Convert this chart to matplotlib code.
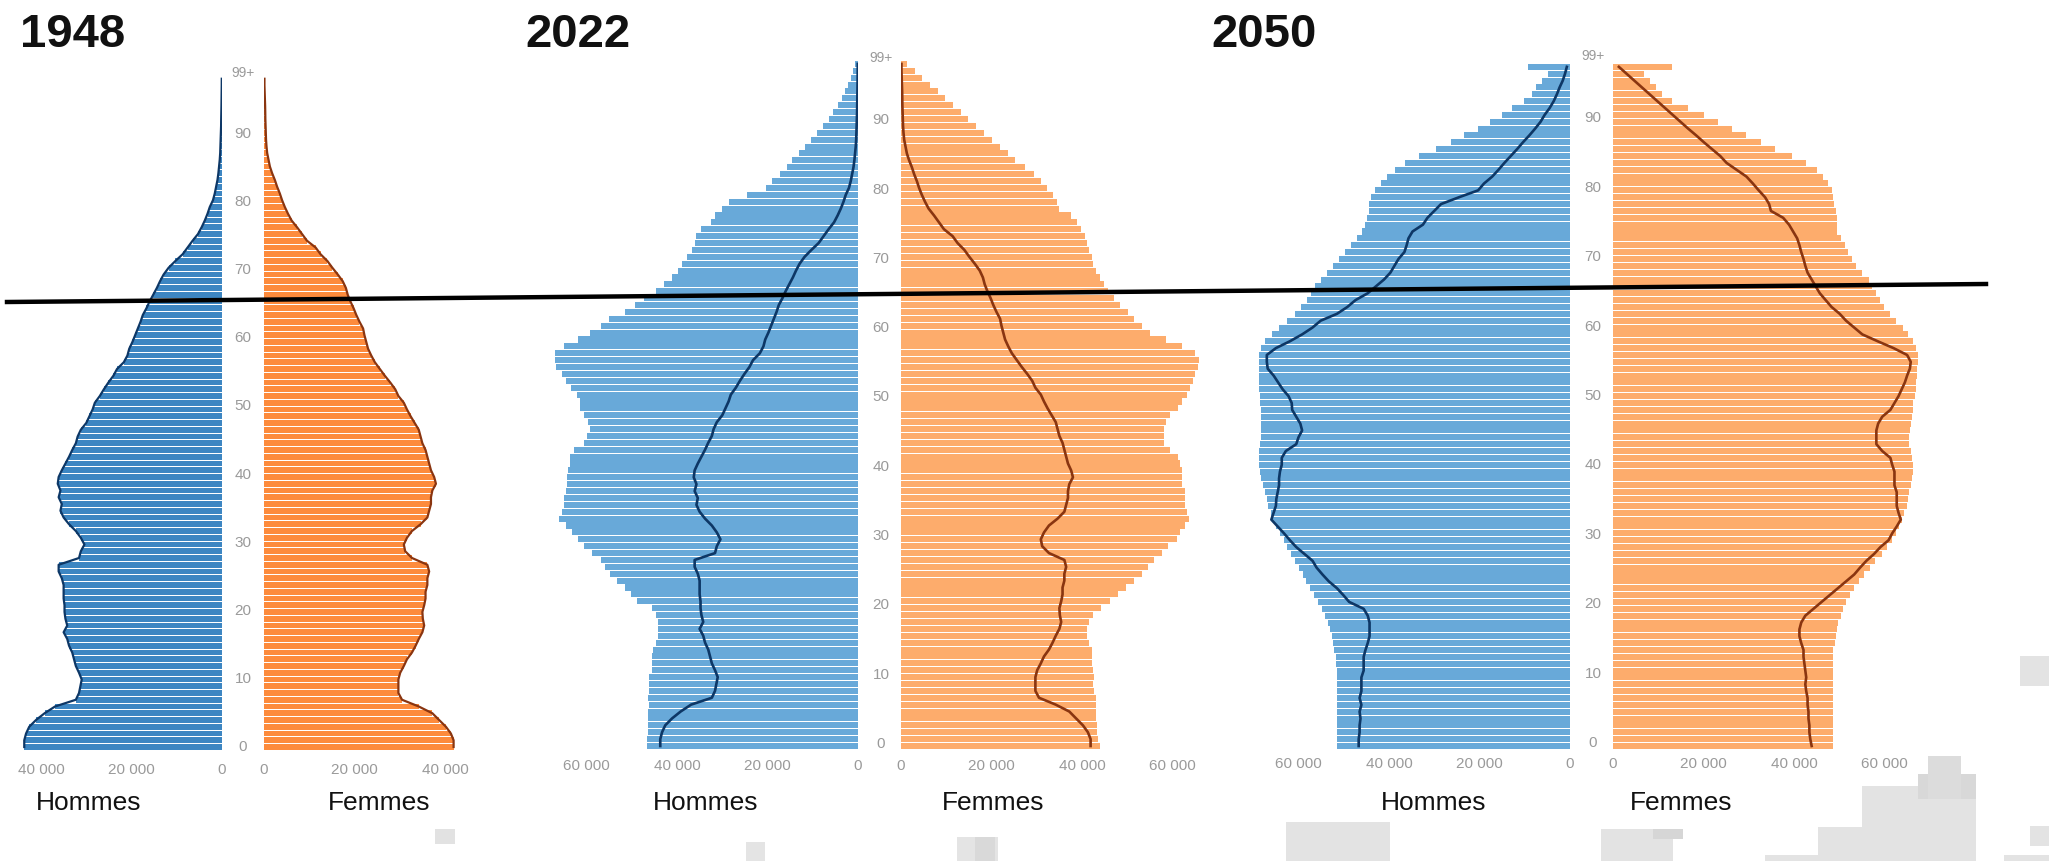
import matplotlib
matplotlib.use("Agg")
import matplotlib.pyplot as plt
from matplotlib.patches import Rectangle
from matplotlib.lines import Line2D

# ---------------- DATA (thousands of people, ages 0 .. 99+) ----------------
ages = list(range(100))
age_tick_values = [0, 10, 20, 30, 40, 50, 60, 70, 80, 90, 99]
age_tick_labels = ["0", "10", "20", "30", "40", "50", "60", "70", "80", "90", "99+"]

men_1948 = [43.7, 43.7, 43.3, 42.6, 41.1, 39.2, 36.9, 32.3, 31.6, 31.3,
            31.0, 31.6, 32.3, 32.7, 33.1, 33.8, 34.2, 35.0, 34.2, 34.6,
            34.8, 34.8, 35.0, 35.0, 35.0, 35.4, 36.1, 36.1, 31.6, 31.2,
            30.4, 31.2, 32.3, 33.8, 35.0, 35.7, 35.4, 36.1, 35.7, 36.3,
            36.1, 35.4, 34.6, 33.8, 33.1, 32.3, 31.9, 31.2, 30.0, 29.3,
            28.6, 28.1, 27.0, 26.1, 25.1, 24.0, 23.2, 21.7, 20.9, 20.5,
            19.8, 19.2, 18.6, 18.0, 17.5, 16.7, 16.0, 15.2, 14.4, 13.7,
            12.9, 11.8, 10.3, 8.7, 7.6, 6.5, 5.3, 4.5, 3.8, 3.2,
            2.7, 2.0, 1.6, 1.3, 1.0, 0.8, 0.65, 0.5, 0.4, 0.35,
            0.3, 0.25, 0.2, 0.18, 0.15, 0.12, 0.1, 0.08, 0.06, 0.05]

women_1948 = [41.9, 41.9, 41.3, 40.2, 38.7, 37.2, 34.2, 30.5, 29.7, 29.7,
              29.7, 30.1, 30.9, 31.6, 32.7, 33.5, 34.2, 35.0, 35.4, 35.1,
              35.0, 35.4, 35.7, 35.7, 36.1, 36.1, 36.5, 36.1, 32.7, 31.2,
              30.9, 31.6, 32.7, 34.6, 36.1, 36.5, 36.9, 36.9, 37.2, 38.0,
              37.6, 36.9, 36.5, 36.1, 35.7, 35.0, 34.6, 34.2, 33.3, 32.4,
              31.6, 30.9, 29.7, 29.0, 27.9, 26.7, 25.6, 24.5, 23.7, 23.0,
              22.6, 22.2, 21.9, 21.1, 20.4, 19.8, 19.1, 18.5, 18.1, 17.4,
              16.3, 15.1, 14.0, 12.5, 11.4, 9.5, 8.4, 7.3, 6.1, 5.3,
              4.6, 4.0, 3.5, 2.9, 2.4, 1.8, 1.3, 1.0, 0.7, 0.55,
              0.45, 0.4, 0.35, 0.3, 0.28, 0.25, 0.2, 0.15, 0.1, 0.1]

men_2022 = [46.7, 46.7, 46.5, 46.5, 46.3, 46.5, 46.1, 46.5, 46.1, 46.1,
            46.1, 45.6, 45.6, 45.6, 45.2, 44.7, 44.3, 44.3, 44.3, 44.7,
            45.6, 48.8, 50.1, 51.5, 53.3, 54.7, 56.0, 56.9, 58.7, 60.5,
            61.9, 63.2, 64.6, 66.0, 65.5, 65.0, 64.9, 64.6, 64.3, 64.3,
            64.1, 63.7, 63.7, 62.8, 60.5, 60.0, 59.2, 59.6, 60.5, 61.4,
            61.5, 62.2, 63.5, 64.5, 65.5, 66.8, 67.0, 67.0, 65.0, 61.9,
            59.2, 56.9, 55.1, 51.5, 49.2, 47.4, 44.7, 42.9, 41.1, 39.7,
            38.8, 37.9, 36.6, 36.1, 35.7, 34.8, 32.5, 31.5, 30.0, 28.5,
            24.5, 20.3, 19.0, 17.2, 15.8, 14.5, 13.1, 11.7, 10.4, 9.0,
            7.7, 6.5, 5.6, 4.5, 3.6, 2.9, 2.3, 1.6, 1.1, 0.7]

women_2022 = [43.9, 43.6, 43.4, 43.4, 43.2, 43.2, 43.0, 43.0, 42.7, 42.5,
              42.7, 42.5, 42.3, 42.1, 42.1, 41.6, 41.2, 41.2, 41.6, 42.5,
              44.3, 46.1, 47.9, 49.7, 51.5, 53.3, 54.6, 56.0, 57.7, 59.1,
              60.9, 61.7, 62.7, 63.6, 63.1, 62.7, 62.7, 62.7, 62.2, 62.2,
              62.2, 61.7, 61.3, 59.5, 58.2, 58.2, 58.2, 58.6, 59.5, 61.3,
              62.2, 63.1, 63.8, 64.5, 65.0, 65.6, 65.8, 65.0, 62.0, 58.5,
              55.1, 53.3, 51.5, 50.1, 48.3, 47.0, 45.7, 44.8, 43.9, 43.0,
              42.5, 42.1, 41.6, 41.2, 40.7, 39.8, 38.9, 37.6, 34.9, 34.5,
              33.6, 32.2, 30.9, 29.5, 27.3, 25.1, 23.7, 21.9, 20.1, 18.4,
              16.6, 14.9, 13.2, 11.5, 9.8, 8.1, 6.4, 4.7, 3.0, 1.3]

men_2050 = [51.5, 51.5, 51.5, 51.5, 51.5, 51.5, 51.5, 51.5, 51.5, 51.5,
            51.5, 51.5, 51.7, 51.8, 52.1, 52.3, 52.6, 53.0, 53.5, 54.2,
            54.9, 55.7, 56.6, 57.4, 58.3, 59.0, 59.9, 60.7, 61.6, 62.5,
            63.3, 64.1, 65.0, 65.6, 66.1, 66.7, 67.0, 67.5, 67.9, 68.2,
            68.5, 68.7, 68.7, 68.7, 68.5, 68.2, 68.2, 68.2, 68.3, 68.3,
            68.4, 68.6, 68.8, 68.8, 68.8, 68.8, 68.8, 68.8, 68.2, 67.3,
            65.9, 64.3, 62.6, 60.8, 59.4, 58.1, 57.2, 56.3, 55.0, 53.7,
            52.4, 51.0, 49.7, 48.4, 47.0, 45.9, 45.3, 44.8, 44.4, 44.4,
            43.9, 43.0, 41.7, 40.4, 38.6, 36.4, 33.3, 29.7, 26.2, 23.5,
            20.4, 17.7, 15.1, 12.9, 10.2, 8.4, 7.5, 6.2, 4.9, 9.3]

women_2050 = [48.7, 48.7, 48.7, 48.7, 48.7, 48.7, 48.7, 48.7, 48.7, 48.7,
              48.7, 48.7, 48.7, 48.7, 48.7, 49.0, 49.3, 49.5, 49.8, 50.4,
              50.9, 51.5, 52.4, 53.2, 54.3, 55.4, 56.9, 58.0, 59.4, 60.5,
              61.6, 62.5, 63.3, 63.8, 64.3, 64.9, 65.1, 65.5, 65.8, 66.1,
              66.3, 66.3, 66.1, 65.8, 65.5, 65.5, 65.6, 65.8, 66.0, 66.2,
              66.3, 66.7, 66.9, 66.9, 67.1, 67.2, 67.4, 67.4, 66.9, 66.3,
              65.2, 64.1, 62.6, 61.3, 60.0, 59.1, 58.2, 57.3, 56.5, 55.1,
              53.8, 52.9, 52.0, 51.2, 50.3, 49.6, 49.4, 49.4, 49.2, 48.9,
              48.7, 48.3, 47.6, 46.3, 45.0, 42.7, 39.6, 35.7, 32.6, 29.5,
              26.4, 23.3, 20.2, 16.6, 13.1, 10.9, 9.6, 8.2, 6.9, 13.1]

titles = ["1948", "2022", "2050"]
men_label = "Hommes"
women_label = "Femmes"
ticks_1948 = [0, 20, 40]
ticks_later = [0, 20, 40, 60]

# ---------------- STYLE / LAYOUT ----------------
W, H = 2049, 862
PX = 4.525  # pixels per 1000 people
fig = plt.figure(figsize=(W / 100, H / 100), dpi=100)
fig.patch.set_facecolor("white")

NARROW = ["Liberation Sans Narrow", "Liberation Sans", "DejaVu Sans"]
ARIAL = ["Liberation Sans", "DejaVu Sans"]
TICK_GREY = "#9a9a9a"

# background compression blocks (decorative)
blocks = [(435, 830, 20, 15, "#e2e2e2"), (746, 843, 19, 19, "#e4e4e4"),
          (957, 838, 41, 24, "#e4e4e4"), (975, 838, 20, 24, "#d9d9d9"),
          (1286, 823, 104, 39, "#e3e3e3"), (1601, 830, 72, 32, "#e3e3e3"),
          (1653, 830, 30, 10, "#d6d6d6"), (1818, 828, 44, 34, "#e3e3e3"),
          (1765, 856, 97, 6, "#e3e3e3"), (1862, 787, 114, 75, "#e3e3e3"),
          (1918, 775, 58, 25, "#d8d8d8"), (1928, 757, 33, 43, "#dcdcdc"),
          (2020, 657, 29, 30, "#e3e3e3"), (2030, 827, 19, 20, "#e3e3e3"),
          (2004, 856, 45, 6, "#e3e3e3")]
for (bx, by, bw, bh, bc) in blocks:
    fig.add_artist(Rectangle((bx / W, 1 - (by + bh) / H), bw / W, bh / H,
                             transform=fig.transFigure, color=bc, lw=0, zorder=0))

panels = [
    dict(title=titles[0], men=men_1948, women=women_1948, men_line=men_1948, women_line=women_1948,
         men_right=222, women_left=264, xmax=45.7, y0=748, pitch=6.75, ticks=ticks_1948,
         lab0=747, lab_pitch=6.81,
         mc="#3d86c2", wc="#fd8b3c", lw=1.6, title_x=20, tick_y=770,
         hx=89, fx=379, age_x=243),
    dict(title=titles[1], men=men_2022, women=women_2022, men_line=men_1948, women_line=women_1948,
         men_right=858, women_left=901, xmax=68.5, y0=747, pitch=6.89, ticks=ticks_later,
         lab0=744, lab_pitch=6.93,
         mc="#68a9d9", wc="#fdac6c", lw=1.9, title_x=525, tick_y=767,
         hx=706, fx=993, age_x=881),
    dict(title=titles[2], men=men_2050, women=women_2050, men_line=men_2022, women_line=women_2022,
         men_right=1570, women_left=1613, xmax=70.7, y0=747, pitch=6.86, ticks=ticks_later,
         lab0=743, lab_pitch=6.94,
         mc="#68a9d9", wc="#fdac6c", lw=1.9, title_x=1211, tick_y=765,
         hx=1434, fx=1681, age_x=1593),
]

MEN_LINE = "#0d3766"
WOMEN_LINE = "#8a3510"


def fmt(v):
    n = int(v * 1000)
    return "0" if n == 0 else "{:,}".format(n).replace(",", " ")


for p in panels:
    y_top = p["y0"] - 99.5 * p["pitch"]
    y_bot = p["y0"] + 0.5 * p["pitch"]
    width_px = p["xmax"] * PX
    for side in ("m", "w"):
        if side == "m":
            x0 = p["men_right"] - width_px
            vals, line, col, lcol = p["men"], p["men_line"], p["mc"], MEN_LINE
        else:
            x0 = p["women_left"]
            vals, line, col, lcol = p["women"], p["women_line"], p["wc"], WOMEN_LINE
        ax = fig.add_axes([x0 / W, 1 - y_bot / H, width_px / W, (y_bot - y_top) / H])
        ax.patch.set_visible(False)
        ax.barh(ages, vals, height=0.88, color=col, lw=0, zorder=2)
        ax.plot(line, ages, color=lcol, lw=p["lw"], zorder=3, solid_joinstyle="round")
        if side == "m":
            ax.set_xlim(p["xmax"], 0)
        else:
            ax.set_xlim(0, p["xmax"])
        ax.set_ylim(-0.5, 99.5)
        for s in ax.spines.values():
            s.set_visible(False)
        ax.set_yticks([])
        ax.set_xticks(p["ticks"])
        ax.set_xticklabels([fmt(t) for t in p["ticks"]], family=NARROW)
        pad_px = p["tick_y"] - 7.5 - y_bot
        ax.tick_params(axis="x", length=0, pad=pad_px * 0.72, labelsize=11,
                       labelcolor=TICK_GREY)

    # age labels in the central gap
    for a, lab in zip(age_tick_values, age_tick_labels):
        ypx = p["lab0"] - a * p["lab_pitch"]
        fig.text(p["age_x"] / W, 1 - ypx / H, lab, ha="center", va="center",
                 fontsize=10 if lab.endswith("+") else 11, color=TICK_GREY, family=NARROW)

    fig.text(p["title_x"] / W, 1 - 35 / H, p["title"], ha="left", va="center",
             fontsize=34, fontweight="bold", family=ARIAL, color="#111111")
    fig.text(p["hx"] / W, 1 - 803 / H, men_label, ha="center", va="center",
             fontsize=19, family=ARIAL, color="#111111")
    fig.text(p["fx"] / W, 1 - 803 / H, women_label, ha="center", va="center",
             fontsize=19, family=ARIAL, color="#111111")

# the black reference line (age ~65)
fig.add_artist(Line2D([7 / W, 1986 / W], [1 - 303 / H, 1 - 285 / H],
                      transform=fig.transFigure, color="black", lw=3.2, zorder=100))

fig.savefig("out.png", dpi=100, facecolor="white")
